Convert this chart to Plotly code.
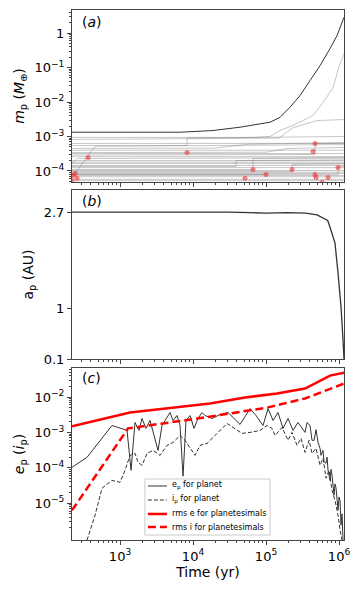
import plotly.graph_objects as go
from plotly.subplots import make_subplots

# ---- panel (a): masses ----
planet_t = [220, 6637, 18800, 44000, 113500, 155600, 213400, 292500, 400800, 549500, 753400, 939000, 1170000]
planet_m = [1.33e-3, 1.33e-3, 1.49e-3, 1.86e-3, 2.6e-3, 3.6e-3, 7.1e-3, 0.0154, 0.042, 0.114, 0.356, 0.85, 2.87]

t_span = [220, 1170000]
flat_m = [6.3e-4, 4.0e-4, 3.2e-4, 2.6e-4, 2.0e-4, 1.8e-4, 1.65e-4, 1.44e-4,
          1.25e-4, 1.03e-4, 9.2e-5, 8.5e-5, 7.4e-5, 6.8e-5, 5.7e-5, 5.2e-5]

step_tracks = [
    ([220, 66400, 113500, 155600, 234400, 364800, 440400, 603600, 827600, 939000, 1032000, 1170000],
     [9.4e-4, 9.4e-4, 1.0e-3, 1.5e-3, 2.1e-3, 3.3e-3, 4.1e-3, 9.7e-3, 0.026, 0.067, 0.13, 0.25]),
    ([220, 150000, 234400, 500000, 1170000], [8.2e-4, 9.0e-4, 1.8e-3, 2.9e-3, 3.1e-3]),
    ([220, 8280, 8280, 1170000], [5.5e-4, 5.5e-4, 9.0e-4, 1.0e-3]),
    ([220, 455, 1170000], [6.5e-5, 5.2e-4, 5.8e-4]),
    ([220, 260, 1170000], [1.65e-4, 2.3e-4, 2.4e-4]),
    ([220, 20000, 60000, 1170000], [4.5e-4, 4.6e-4, 6.0e-4, 6.6e-4]),
    ([220, 100000, 200000, 1170000], [3.4e-4, 3.5e-4, 4.5e-4, 4.8e-4]),
    ([220, 66400, 66400, 1170000], [1.1e-4, 1.1e-4, 2.3e-4, 2.4e-4]),
    ([220, 38800, 38800, 1170000], [1.35e-4, 1.35e-4, 2.0e-4, 2.1e-4]),
    ([220, 227000, 227000, 1170000], [9.5e-5, 9.5e-5, 1.55e-4, 1.6e-4]),
    ([220, 469000, 469000, 1170000], [2.9e-4, 3.0e-4, 6.3e-4, 6.4e-4]),
    ([220, 100000], [7.9e-5, 7.9e-5]),
    ([220, 968900, 968900, 1170000], [8.0e-5, 8.0e-5, 1.3e-4, 1.35e-4]),
]

coll_t = [220, 227, 242, 258, 365, 8280, 51500, 66400, 100000, 227000, 440400,
          469000, 469000, 484200, 584800, 706800, 968900]
coll_m = [5.3e-5, 7.4e-5, 8.5e-5, 6.1e-5, 2.46e-4, 3.44e-4, 6.1e-5, 1.1e-4, 7.9e-5,
          1.1e-4, 3.67e-4, 6.3e-4, 7.9e-5, 6.5e-5, 4.6e-5, 6.5e-5, 1.26e-4]

# ---- panel (b): semi-major axis ----
ap_t = [220, 500, 1000, 3000, 10000, 30000, 60000, 100000, 200000, 350000, 500000,
        603600, 700000, 753400, 881000, 968900, 1065000, 1135000, 1170000]
ap_a = [2.70, 2.70, 2.71, 2.70, 2.70, 2.70, 2.69, 2.68, 2.69, 2.68, 2.65,
        2.59, 2.55, 2.43, 2.15, 1.62, 1.02, 0.43, 0.10]

# ---- panel (c): eccentricity / inclination ----
ep_t = [220, 353, 776, 1247, 1416, 1603, 1820, 2000, 2270, 2576, 2924, 3318, 3760, 4267,
        4842, 5321, 6039, 6637, 7295, 8017, 9100, 10320, 11700, 13280, 14590, 18200,
        23440, 30140, 44040, 60390, 72950, 90990, 106500, 124700, 145900, 170900,
        200000, 234400, 274200, 342000, 364500, 400800, 426600, 454700, 484200,
        515500, 549500, 566300, 603600, 623600, 663400, 685500, 706800, 753400,
        776800, 801700, 855000, 881000, 910000, 968900, 1000000, 1032000, 1065000,
        1099000, 1135000]
ep_v = [1.03e-4, 1.98e-4, 1.57e-3, 1.14e-3, 8.5e-5, 1.91e-3, 1.14e-3, 2.48e-3, 1.30e-3,
        2.18e-3, 8.2e-4, 3.1e-4, 1.57e-3, 2.48e-3, 3.66e-3, 2.18e-3, 3.0e-3, 1.57e-3,
        5.8e-5, 2.18e-3, 3.0e-3, 1.30e-3, 2.48e-3, 3.66e-3, 3.0e-3, 2.48e-3, 3.2e-3,
        3.66e-3, 1.68e-3, 4.7e-3, 3.0e-3, 1.57e-3, 4.7e-3, 2.18e-3, 3.66e-3, 1.30e-3,
        2.48e-3, 1.14e-3, 1.91e-3, 1.0e-3, 1.9e-3, 1.57e-3, 6.0e-4, 5.96e-4, 1.2e-3,
        5.2e-4, 3.5e-4, 2.25e-4, 3.1e-4, 1.5e-4, 1.34e-4, 2.0e-4, 8.5e-5, 4.4e-5,
        9.0e-5, 6.2e-5, 1.68e-5, 3.5e-5, 2.65e-5, 6.4e-6, 1.5e-5, 1.2e-5, 2.4e-6,
        5.0e-6, 9.0e-7]

ip_t = [353, 455, 566, 776, 1000, 1171, 1370, 1603, 1765, 2000, 2344, 2831, 3532, 4404,
        5321, 6637, 7762, 9100, 10650, 12470, 15560, 20000, 29240, 46880, 60390, 82790,
        103300, 120900, 132900, 165700, 200000, 227000, 266100, 301400, 342000, 388200,
        426600, 484200, 549500, 603600, 663400, 729400, 801700, 881000, 968900,
        1032000, 1099000]
ip_v = [9e-7, 4.6e-6, 2.65e-5, 4.4e-5, 3.9e-5, 8.5e-5, 2.25e-4, 2.56e-4, 1.43e-4, 1.18e-4,
        2.56e-4, 3.1e-4, 2.25e-4, 4.3e-4, 5.2e-4, 8.2e-4, 6.0e-4, 3.54e-4, 2.25e-4, 4.3e-4,
        4.9e-4, 8.2e-4, 1.79e-3, 9.4e-4, 1.0e-3, 1.14e-3, 1.57e-3, 1.30e-3, 8.2e-4, 1.38e-3,
        6.0e-4, 1.0e-3, 4.3e-4, 6.8e-4, 2.73e-4, 6.0e-4, 2.56e-4, 3.54e-4, 1.18e-4, 1.85e-4,
        5.1e-5, 8.5e-5, 2.3e-5, 1.2e-5, 4.6e-6, 1.74e-6, 9e-7]

rms_e_t = [220, 1370, 17100, 51500, 141600, 342000, 753400, 1170000]
rms_e_v = [1.48e-3, 3.66e-3, 6.6e-3, 9.7e-3, 1.26e-2, 1.73e-2, 4.03e-2, 4.9e-2]

rms_i_t = [220, 1287, 14590, 106500, 342000, 753400, 1170000]
rms_i_v = [6.3e-6, 1.3e-3, 2.65e-3, 5.1e-3, 9.1e-3, 1.73e-2, 2.4e-2]

legend_labels = ["e<sub>p</sub> for planet", "i<sub>p</sub> for planet",
                 "rms e for planetesimals", "rms i for planetesimals"]

FONT = "DejaVu Sans"
DARK = "#333"
fig = make_subplots(rows=3, cols=1, shared_xaxes=True)

grey = "rgba(120,120,120,0.42)"
for m in flat_m:
    fig.add_trace(go.Scatter(x=t_span, y=[m, m], mode="lines", line=dict(color=grey, width=1)), row=1, col=1)
for tt, mm in step_tracks:
    fig.add_trace(go.Scatter(x=tt, y=mm, mode="lines", line=dict(color=grey, width=1)), row=1, col=1)
fig.add_trace(go.Scatter(x=planet_t, y=planet_m, mode="lines", line=dict(color=DARK, width=1)), row=1, col=1)
fig.add_trace(go.Scatter(x=coll_t, y=coll_m, mode="markers",
                         marker=dict(color="rgba(240,50,50,0.6)", size=5)), row=1, col=1)

fig.add_trace(go.Scatter(x=ap_t, y=ap_a, mode="lines", line=dict(color=DARK, width=1.3)), row=2, col=1)

styles = [dict(color=DARK, width=1), dict(color=DARK, width=1, dash="4px,2px"),
          dict(color="red", width=2.5), dict(color="red", width=2.5, dash="8px,4px")]
for (xs, ys), st in zip([(ep_t, ep_v), (ip_t, ip_v), (rms_e_t, rms_e_v), (rms_i_t, rms_i_v)], styles):
    fig.add_trace(go.Scatter(x=xs, y=ys, mode="lines", line=st), row=3, col=1)

fig.update_traces(showlegend=False)

ax = dict(showline=True, mirror=True, linecolor="#444", linewidth=1, ticks="outside",
          ticklen=4, tickcolor="#444", showgrid=False, zeroline=False,
          tickfont=dict(size=13, color="black", family=FONT))
title_font = dict(size=14, family=FONT, color="black")

xticks = [1e3, 1e4, 1e5, 1e6]
xtext = ["10<sup>3</sup>", "10<sup>4</sup>", "10<sup>5</sup>", "10<sup>6</sup>"]
XR = [2.342, 6.068]
for i in [1, 2, 3]:
    fig.update_xaxes(type="log", range=XR, tickvals=xticks, ticktext=xtext,
                     showticklabels=(i == 3), row=i, col=1, **ax)
fig.update_xaxes(title=dict(text="Time (yr)", font=title_font, standoff=2), row=3, col=1)

YA = [-4.32, 0.67]
YC = [-6.04, -1.18]
fig.update_yaxes(type="log", range=YA, domain=[0.6755, 1.0],
                 tickvals=[1e-4, 1e-3, 1e-2, 1e-1, 1],
                 ticktext=["10<sup>−4</sup>", "10<sup>−3</sup>", "10<sup>−2</sup>", "10<sup>−1</sup>", "1"],
                 title=dict(text="<i>m</i><sub>p</sub> (<i>M</i><sub>⊕</sub>)", font=title_font, standoff=6),
                 row=1, col=1, **ax)
fig.update_yaxes(range=[0.1, 3.09], domain=[0.3415, 0.6604], tickvals=[0.1, 1, 2.7],
                 ticktext=["0.1", "1", "2.7"],
                 title=dict(text="a<sub>p</sub> (AU)", font=title_font, standoff=6),
                 row=2, col=1, **ax)
fig.update_yaxes(type="log", range=YC, domain=[0.0, 0.3245],
                 tickvals=[1e-5, 1e-4, 1e-3, 1e-2],
                 ticktext=["10<sup>−5</sup>", "10<sup>−4</sup>", "10<sup>−3</sup>", "10<sup>−2</sup>"],
                 title=dict(text="<i>e</i><sub>p</sub> (<i>i</i><sub>p</sub>)", font=title_font, standoff=6),
                 row=3, col=1, **ax)

# minor ticks via overlaid axes
minor_x = [k * 10 ** e for e in range(2, 7) for k in range(2, 10)]
minor_ya = [k * 10.0 ** e for e in range(-5, 1) for k in range(2, 10)]
minor_yc = [k * 10.0 ** e for e in range(-7, -1) for k in range(2, 10)]
mt = dict(ticks="outside", ticklen=2, tickcolor="#444", showticklabels=False,
          showline=False, showgrid=False, zeroline=False, type="log")
fig.update_layout(
    xaxis4=dict(overlaying="x", anchor="y", range=XR, tickvals=minor_x, side="bottom", **mt),
    xaxis5=dict(overlaying="x2", anchor="y2", range=XR, tickvals=minor_x, side="bottom", **mt),
    xaxis6=dict(overlaying="x3", anchor="y3", range=XR, tickvals=minor_x, side="bottom", **mt),
    yaxis4=dict(overlaying="y", anchor="x", range=YA, tickvals=minor_ya, side="left", **mt),
    yaxis5=dict(overlaying="y3", anchor="x3", range=YC, tickvals=minor_yc, side="left", **mt),
)
for xa, ya in [("x4", "y"), ("x5", "y2"), ("x6", "y3"), ("x", "y4"), ("x3", "y5")]:
    fig.add_trace(go.Scatter(x=[None], y=[None], xaxis=xa, yaxis=ya, showlegend=False, hoverinfo="skip"))

for lab, yy in [("a", 0.977), ("b", 0.640), ("c", 0.306)]:
    fig.add_annotation(text="(<i>%s</i>)" % lab, xref="paper", yref="paper", x=0.03, y=yy,
                       xanchor="left", yanchor="middle", showarrow=False,
                       font=dict(size=14, family=FONT, color="black"))

# legend drawn by hand (plotly legend rows are too tall at this size)
lx0, lx1, ly0, ly1 = 0.268, 0.728, 0.0094, 0.1151
fig.add_shape(type="rect", xref="paper", yref="paper", x0=lx0, x1=lx1, y0=ly0, y1=ly1,
              line=dict(color="#ccc", width=1), fillcolor="rgba(255,255,255,0.85)", layer="above")
row_y = [0.1019, 0.0755, 0.0491, 0.0245]
for lab, st, yy in zip(legend_labels, styles, row_y):
    fig.add_shape(type="line", xref="paper", yref="paper", x0=0.279, x1=0.349, y0=yy, y1=yy,
                  line=st, layer="above")
    fig.add_annotation(text=lab, xref="paper", yref="paper", x=0.362, y=yy, xanchor="left",
                       yanchor="middle", showarrow=False, font=dict(size=8, family=FONT, color="black"))

fig.update_layout(
    width=360, height=589,
    margin=dict(l=72, r=16, t=10, b=49),
    paper_bgcolor="white", plot_bgcolor="white",
    font=dict(family=FONT, color="black"),
    showlegend=False,
)

fig.write_html("out.html", config={"displayModeBar": False},
               post_script="document.body.style.margin='0';document.body.style.overflow='hidden';")
